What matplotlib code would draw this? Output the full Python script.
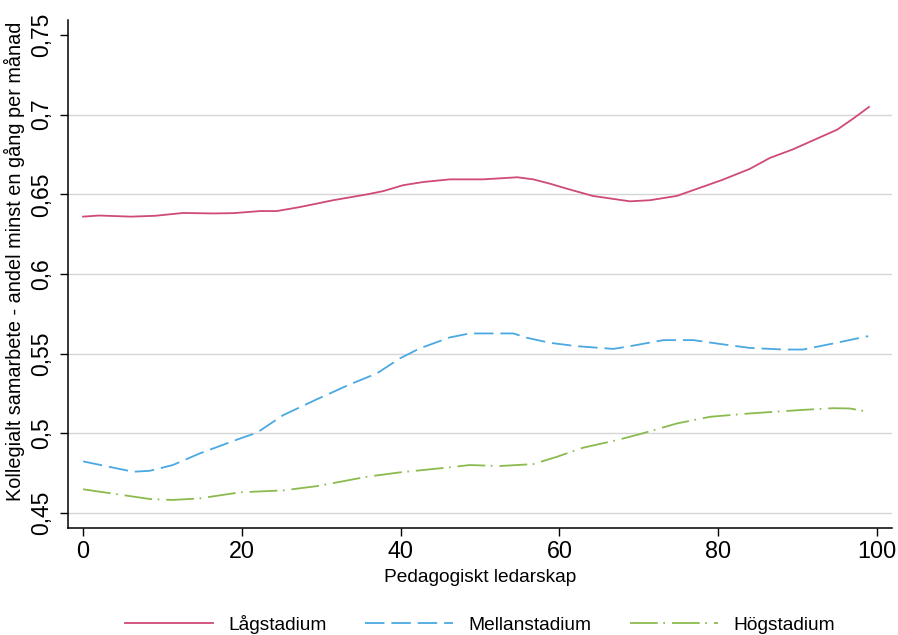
import matplotlib
matplotlib.use("Agg")
import matplotlib.pyplot as plt

plt.rcParams['font.family'] = ['Liberation Sans', 'DejaVu Sans']
plt.rcParams['lines.scale_dashes'] = False

# ---- data ----
series_names = ["Lågstadium", "Mellanstadium", "Högstadium"]

low_x = [0, 2, 6, 9, 12.6, 16.4, 19, 22.3, 24.4, 27.3, 31.5, 35.8, 37.8, 40.3, 42.8, 46.2,
         50.4, 54.7, 56.7, 58.8, 60.9, 64.2, 68.9, 71.4, 74.8, 80.6, 84, 86.5, 89.4, 95, 97, 99]
low_y = [0.636, 0.6367, 0.636, 0.6365, 0.6383, 0.638, 0.6382, 0.6395, 0.6395, 0.642, 0.6463,
         0.650, 0.652, 0.6557, 0.6577, 0.6594, 0.6594, 0.6607, 0.6594, 0.6567, 0.6536, 0.649,
         0.6456, 0.6463, 0.649, 0.6592, 0.666, 0.6728, 0.6782, 0.6906, 0.6975, 0.7048]

mid_x = [0, 6.3, 8.4, 11.3, 14.7, 19.8, 21.9, 25.2, 29.5, 33.6, 37, 39.9, 42.4, 46.2, 48.7,
         54.2, 55.9, 58.8, 62.2, 66.8, 68.9, 73.1, 76.9, 79.8, 84, 88.2, 90.7, 94.5, 98.9]
mid_y = [0.4824, 0.4759, 0.4765, 0.4801, 0.4874, 0.4968, 0.5004, 0.5114, 0.5215, 0.5307,
         0.5376, 0.547, 0.5533, 0.5602, 0.5627, 0.5627, 0.560, 0.5568, 0.5547, 0.553, 0.5547,
         0.5585, 0.5585, 0.5564, 0.5536, 0.5526, 0.5526, 0.5564, 0.561]

high_x = [0, 8.4, 11.3, 14.7, 19.8, 25.2, 29.5, 35.8, 39.9, 46.2, 48.7, 52.5, 56.7, 59.7,
          63, 67.3, 70.5, 74.8, 79, 84, 90.3, 94.5, 96.6, 98.9]
high_y = [0.4649, 0.4588, 0.4582, 0.4592, 0.463, 0.4642, 0.4669, 0.4728, 0.4755, 0.4787,
          0.4801, 0.4795, 0.4807, 0.4853, 0.491, 0.4958, 0.500, 0.5062, 0.5104, 0.5125,
          0.5146, 0.5158, 0.5156, 0.5135]

x_ticks = [0, 20, 40, 60, 80, 100]
x_ticklabels = ["0", "20", "40", "60", "80", "100"]
y_ticks = [0.45, 0.5, 0.55, 0.6, 0.65, 0.7, 0.75]
y_ticklabels = ["0,45", "0,5", "0,55", "0,6", "0,65", "0,7", "0,75"]

x_label = "Pedagogiskt ledarskap"
y_label = "Kollegialt samarbete - andel minst en gång per månad"

# ---- figure ----
fig = plt.figure(figsize=(8.98, 6.35), dpi=100)
ax = fig.add_axes([68/898, 1 - 528/635, (892-68)/898, (528-20)/635])

c_low = "#cf4a78"
c_mid = "#4aa8e2"
c_high = "#8bbb4e"

ax.plot(low_x, low_y, color=c_low, lw=1.3, label=series_names[0])
ax.plot(mid_x, mid_y, color=c_mid, lw=1.3, linestyle=(0, (14, 5)), label=series_names[1])
ax.plot(high_x, high_y, color=c_high, lw=1.3, linestyle=(0, (20, 4, 1.2, 5)), label=series_names[2])

ax.set_xlim(-1.9, 101.9)
ax.set_ylim(0.4406, 0.7594)

ax.set_xticks(x_ticks)
ax.set_xticklabels(x_ticklabels, fontsize=16.8)
ax.set_yticks(y_ticks)
ax.set_yticklabels(y_ticklabels, fontsize=16.5, rotation=90, va='center')

ax.tick_params(axis='both', direction='out', length=6, width=1, color='black')
ax.tick_params(axis='y', pad=5)
ax.tick_params(axis='x', pad=3)

for s in ['top', 'right']:
    ax.spines[s].set_visible(False)
for s in ['left', 'bottom']:
    ax.spines[s].set_linewidth(1.1)
    ax.spines[s].set_color('black')

ax.yaxis.grid(True, color='#d6d6d6', lw=1)
ax.set_axisbelow(True)
gl = ax.yaxis.get_gridlines()
gl[-1].set_visible(False)

ax.set_xlabel(x_label, fontsize=13.8, labelpad=4)
ax.set_ylabel(y_label, fontsize=14.3)
ax.yaxis.set_label_coords(-0.052, 0.525)

handles, labels = ax.get_legend_handles_labels()
fig.legend(handles, labels, loc='center', bbox_to_anchor=(480/898, 1 - 624/635), ncol=3,
           frameon=False, fontsize=13.8, handlelength=4.6, handletextpad=0.8, columnspacing=2.0)

fig.savefig("out.png", dpi=100)
